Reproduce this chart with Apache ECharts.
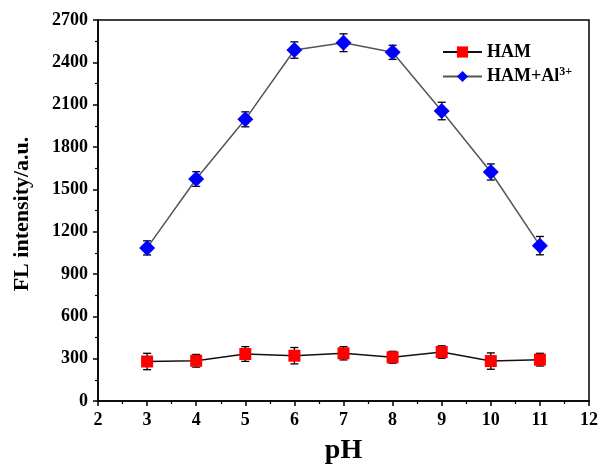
<!DOCTYPE html>
<html>
<head>
<meta charset="utf-8">
<script src="https://cdn.jsdelivr.net/npm/echarts@6/dist/echarts.min.js"></script>
<style>
  html, body { margin: 0; padding: 0; background: #fff; }
  #chart { width: 603px; height: 466px; }
</style>
</head>
<body>
<div id="chart"></div>
<script>
// pH values
var phList = [3, 4, 5, 6, 7, 8, 9, 10, 11];
// HAM
var hamVal = [280, 285, 333, 321, 338, 310, 347, 283, 293];
var hamErr = [58, 45, 52, 58, 47, 42, 44, 58, 45];
// HAM+Al3+
var alVal = [1085, 1573, 1996, 2487, 2539, 2471, 2055, 1623, 1101];
var alErr = [50, 52, 53, 58, 63, 50, 62, 57, 65];

var fontFam = '"Liberation Serif", "Times New Roman", serif';

function pairs(xs, ys) {
    var out = [];
    for (var i = 0; i < xs.length; i++) out.push([xs[i], ys[i]]);
    return out;
}
function errData(xs, ys, es) {
    var out = [];
    for (var i = 0; i < xs.length; i++) out.push([xs[i], ys[i] - es[i], ys[i] + es[i]]);
    return out;
}
//误差线
function renderErr(params, api) {
    var x = api.value(0);
    var lo = api.coord([x, api.value(1)]);
    var hi = api.coord([x, api.value(2)]);
    var w = 4;
    var st = { stroke: '#000', lineWidth: 1.3 };
    return {
        type: 'group',
        children: [
            { type: 'line', shape: { x1: lo[0], y1: lo[1], x2: hi[0], y2: hi[1] }, style: st },
            { type: 'line', shape: { x1: lo[0] - w, y1: lo[1], x2: lo[0] + w, y2: lo[1] }, style: st },
            { type: 'line', shape: { x1: hi[0] - w, y1: hi[1], x2: hi[0] + w, y2: hi[1] }, style: st }
        ]
    };
}

var myChart = echarts.init(document.getElementById('chart'));
var option = {
    animation: false,
    backgroundColor: '#fff',
    textStyle: { fontFamily: fontFam },
    grid: {
        left: 98, right: 14, top: 20, bottom: 65, show: true, borderColor: '#000', borderWidth: 1.5,
        outerBoundsMode: 'none', containLabel: false
    },
    legend: {
        left: 437, top: 38, orient: 'vertical', itemGap: 5,
        itemWidth: 39, itemHeight: 14,
        textStyle: {
            fontFamily: fontFam, fontSize: 18, fontWeight: 'bold', color: '#000',
            rich: {
                b: { fontFamily: fontFam, fontSize: 18, fontWeight: 'bold', color: '#000' },
                sup: { fontFamily: fontFam, fontSize: 12, fontWeight: 'bold', color: '#000', verticalAlign: 'top', padding: [0, 0, 9, 0] }
            }
        },
        formatter: function (name) {
            if (name === 'HAM+Al3+') return '{b|HAM+Al}{sup|3+}';
            return '{b|' + name + '}';
        },
        data: ['HAM', 'HAM+Al3+']
    },
    xAxis: {
        type: 'value', min: 2, max: 12, interval: 1,
        name: 'pH', nameLocation: 'middle', nameGap: 36,
        nameTextStyle: { fontFamily: fontFam, fontSize: 28, fontWeight: 'bold', color: '#000' },
        axisLine: { lineStyle: { color: '#000', width: 1.5 } },
        axisTick: { length: 5, lineStyle: { color: '#000', width: 1.5 } },
        minorTick: { show: true, splitNumber: 2, length: 3, lineStyle: { color: '#000', width: 1.2 } },
        axisLabel: { fontFamily: fontFam, fontSize: 18, fontWeight: 'bold', color: '#000', margin: 10 },
        splitLine: { show: false }
    },
    yAxis: {
        type: 'value', min: 0, max: 2700, interval: 300,
        name: 'FL intensity/a.u.', nameLocation: 'middle', nameGap: 65, nameRotate: 90,
        nameTextStyle: {
            fontFamily: fontFam, fontSize: 22, fontWeight: 'bold', color: '#000',
            padding: [0, 7, 0, 0]
        },
        axisLine: { lineStyle: { color: '#000', width: 1.5 } },
        axisTick: { length: 5, lineStyle: { color: '#000', width: 1.5 } },
        minorTick: { show: true, splitNumber: 2, length: 3, lineStyle: { color: '#000', width: 1.2 } },
        axisLabel: {
            fontFamily: fontFam, fontSize: 18, fontWeight: 'bold', color: '#000', margin: 10,
            formatter: function (v) { return String(v); }
        },
        splitLine: { show: false }
    },
    series: [
        {
            name: 'HAM', type: 'line', data: pairs(phList, hamVal),
            symbol: 'rect', symbolSize: 12,
            itemStyle: { color: '#ff0000', borderWidth: 0 },
            lineStyle: { color: '#111', width: 1.5 },
            z: 3
        },
        {
            name: 'HAM+Al3+', type: 'line', data: pairs(phList, alVal),
            symbol: 'diamond', symbolSize: 16,
            itemStyle: { color: '#0000ff', borderWidth: 0 },
            lineStyle: { color: '#555', width: 1.5 },
            z: 3
        },
        {
            type: 'custom', renderItem: renderErr, data: errData(phList, hamVal, hamErr),
            encode: { x: 0, y: [1, 2] }, z: 2, silent: true
        },
        {
            type: 'custom', renderItem: renderErr, data: errData(phList, alVal, alErr),
            encode: { x: 0, y: [1, 2] }, z: 2, silent: true
        }
    ]
};
myChart.setOption(option);
</script>
</body>
</html>
